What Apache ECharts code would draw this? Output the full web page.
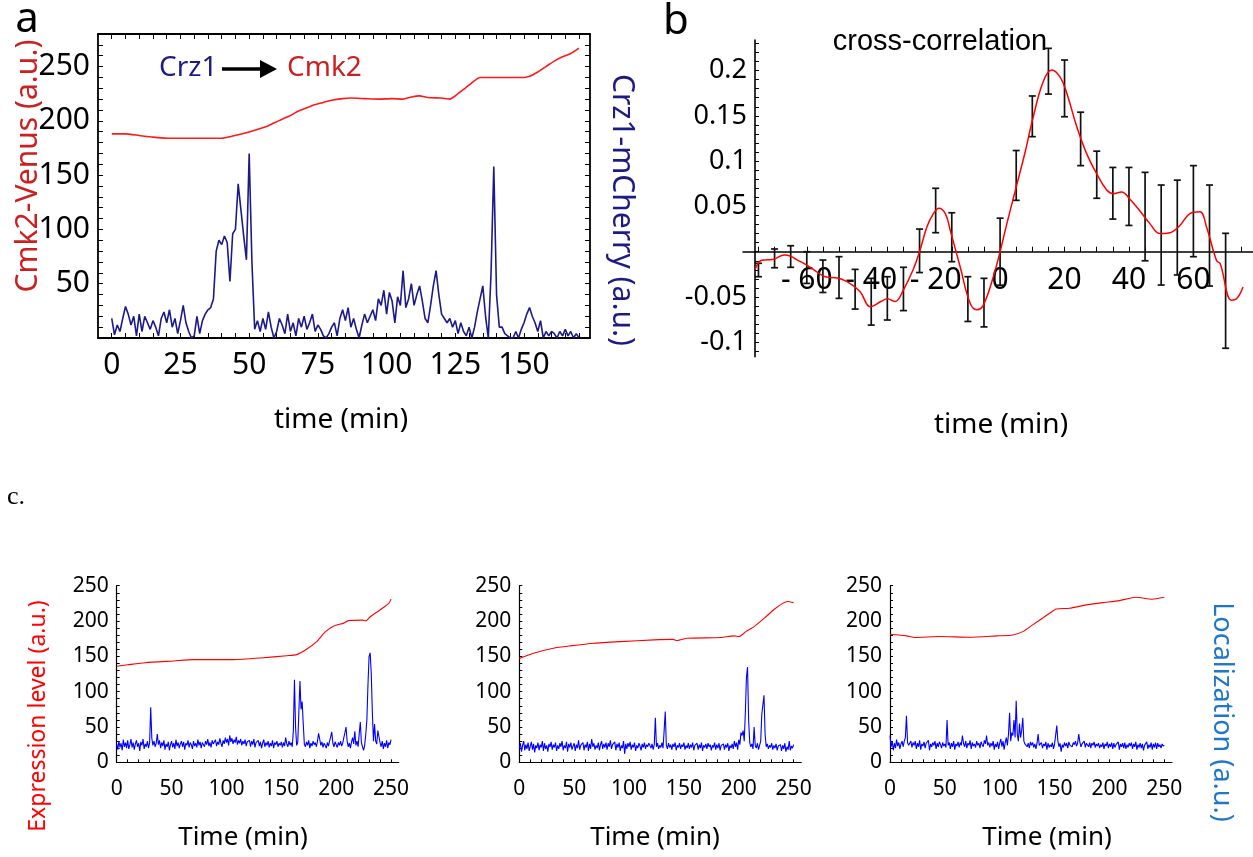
<!DOCTYPE html>
<html><head><meta charset="utf-8">
<script src="https://cdn.jsdelivr.net/npm/echarts@6/dist/echarts.min.js"></script>
<style>html,body{margin:0;padding:0;background:#fff}#c{width:1253px;height:857px}</style>
</head><body><div id="c"></div>
<script>
// ---------- Panel a ----------
const aRedT = [0,5,10,15,20,25,30,35,40,44,49,53,56,59,62,65,68,71,74,77,80,84,87,92,97,102,106,109,112,115,120,123,125,128,131,134,140,145,150,152,155,158,161,164,167,170];
const aRedV = [188,188,186.5,185,184,184,184,184,184,186,189,192,194.5,198,201.5,205,209,212,215,217,219,220.5,221,220.5,220,220.5,220,222,223,221.5,221,220,223,229,235,240,240,240,240,241,245,250,255,259,262,267];
// Crz1-mCherry, one sample per minute from t = 0
const aBlueV = [18,3,12,6,18,29,22,12,20,2, 22,6,20,14,8,16,10,2,18,24, 14,26,10,18,4,16,30,14,6,0,
  2,20,4,16,22,26,28,36,80,90, 86,94,88,52,96,100,142,118,94,72, 170,70,8,16,6,18,8,24,10,0,
  6,18,12,4,22,6,14,2,18,10, 20,8,14,22,6,12,8,2,0,4, 10,14,2,18,26,16,28,10,18,8,
  0,12,22,14,20,26,16,36,30,44, 22,42,34,14,38,30,62,28,36,50, 30,40,48,34,18,14,30,48,62,40,
  22,18,14,18,10,16,4,14,6,2, 10,0,10,24,36,48,20,0,60,158, 40,10,10,4,2,0,0,6,0,8,
  14,22,28,20,14,6,16,0,6,2, 6,4,0,6,2,8,2,6,0,4,0];
const aXLabels = [0,25,50,75,100,125,150];
const aYLabels = [50,100,150,200,250];

// ---------- Panel b ----------
const bCorrT = [-76,-74,-72,-70,-67,-65,-63,-60,-57,-54,-51,-47.5,-43.5,-40.3,-37,-35,-32.6,-30,-27,-25,-22.7,-20.7,-19,-17,-15.5,-12.4,-9.3,-7.2,-5.2,-2.1,0,2.1,5,7.7,10.3,13.4,16,18.6,20.7,23.8,26.9,30,33.1,35.2,37.7,40.3,43.4,46.5,49.6,52.7,55.8,58.9,62,64.1,67.2,68.3,71.8,73.4,75.4];
const bCorrV = [-0.019,-0.0094,-0.009,-0.008,-0.0036,-0.005,-0.009,-0.0147,-0.022,-0.028,-0.0287,-0.033,-0.044,-0.0607,-0.055,-0.052,-0.055,-0.042,-0.020,0,0.0276,0.042,0.048,0.042,0.024,-0.0166,-0.057,-0.064,-0.059,-0.0276,0,0.031,0.0714,0.109,0.149,0.188,0.2006,0.193,0.175,0.138,0.108,0.086,0.068,0.064,0.066,0.058,0.045,0.031,0.020,0.021,0.029,0.042,0.044,0.027,-0.01,-0.013,-0.0535,-0.052,-0.039];
const bErrT = [-75,-70,-65,-60,-55,-50,-45,-40,-35,-30,-25,-20,-15,-10,-5,0,5,10,15,20,25,30,35,40,45,50,55,60,65,70];
const bErrHigh = [-0.0128,0.003,0.0066,0,-0.0092,-0.0055,-0.0195,-0.0294,-0.0276,-0.0172,0.025,0.070,0.043,-0.0276,-0.0294,0.037,0.1117,0.1719,0.2245,0.2116,0.154,0.111,0.093,0.093,0.0876,0.0736,0.079,0.095,0.0736,0.0203];
const bErrLow = [-0.0276,-0.0177,-0.0172,-0.035,-0.045,-0.0515,-0.0633,-0.081,-0.0754,-0.065,-0.023,0.021,-0.011,-0.077,-0.083,-0.037,0.0567,0.127,0.174,0.149,0.095,0.059,0.036,0.029,-0.010,-0.0368,-0.0257,-0.0055,-0.0379,-0.1066];
const bXLabels = [-60,-40,-20,0,20,40,60];
const bYLabels = [-0.1,-0.05,0.05,0.1,0.15,0.2];

// ---------- Panel c ----------
const c1RedT = [0,10,26,52,70,106,131,155,164,173,182,190,198,207,211,224,227,231,240,248,250];
const c1RedV = [136,138,141,143.5,145.3,145.3,147.6,150.9,152.4,160,170.4,184.6,193,197,200.6,201.3,200,206,215.7,225,231];
const c1BlueV = [26,18,30,21,27,17,32,22,28,20, 31,19,25,33,21,28,18,26,31,22, 27,16,29,24,33,19,26,22,30,20,
  28,78,34,24,30,22,27,40,25,31, 20,28,23,31,18,26,22,29,17,25, 30,21,27,19,32,23,28,20,26,30,
  22,29,18,27,24,31,21,28,25,19, 30,23,27,21,32,24,29,20,28,26, 22,30,25,33,23,28,21,31,26,24,
  32,23,29,25,34,27,22,31,26,35, 28,33,24,38,29,34,26,32,28,36, 25,31,27,33,24,30,26,32,23,29,
  27,31,22,30,25,33,21,28,26,31, 23,29,20,27,32,22,28,24,30,21, 27,23,31,20,28,25,30,22,27,24,
  29,21,28,23,35,26,22,30,24,28, 22,45,117,50,24,28,70,115,75,86, 55,26,22,29,24,31,20,27,23,30,
  25,28,22,30,41,33,24,29,21,27, 24,20,28,23,30,36,43,27,22,29, 25,21,28,24,30,23,27,35,42,50,
  30,22,27,20,29,35,26,44,24,30, 22,40,57,28,22,17,24,40,60,110, 150,155,125,70,30,54,30,26,45,43,
  28,22,30,19,27,22,31,20,28,25,32];
const c2RedT = [0,13,31,46.5,68,92,122.7,140,144,153,183.6,195.8,200.4,206.5,214,223.3,232.4,240,244.6,250];
const c2RedV = [147,154.4,161.5,164.8,168.6,170.9,173.3,174,172.5,175.6,176.6,179,178,185,192,204,216.6,225,227.6,226];
const c2BlueV = [20,27,15,24,30,17,25,19,28,16, 23,29,18,26,14,24,20,28,17,25, 21,30,16,27,19,24,15,26,22,29,
  18,25,21,28,16,24,19,27,22,30, 17,24,20,29,15,26,21,28,18,23, 27,16,25,20,31,18,24,22,28,17,
  25,21,29,16,26,19,33,22,27,18, 24,20,28,17,25,30,19,26,21,28, 18,27,22,31,19,25,23,29,17,26,
  21,28,16,24,20,30,12,26,19,27, 22,29,18,25,21,28,16,24,20,27, 23,17,26,21,28,19,25,22,27,24,
  20,26,18,25,63,22,27,19,24,21, 28,20,45,72,24,19,27,21,25,18, 26,22,28,17,24,21,27,19,25,22,
  28,18,24,20,27,19,25,21,28,17, 24,22,27,18,25,20,28,16,24,21, 26,19,27,22,25,17,24,21,28,18,
  25,20,27,17,24,22,26,18,25,21, 27,16,24,20,26,19,30,22,28,18, 32,25,42,38,45,30,70,120,135,60,
  28,22,26,19,50,24,20,27,18,24, 30,68,66,95,40,22,26,19,24,21, 27,18,24,20,26,17,23,21,25,16,
  24,19,27,15,22,18,30,17,23,20,25];
const c3RedT = [0,15,22.7,45.5,72.7,97,112,121,130,139,145.5,151.5,163.6,178.8,194,209,224,239,250];
const c3RedV = [181.3,179,176.6,178,177,179,180.3,185,194.5,204,211,217,218,222.8,226,228.9,233.6,230.8,233.6];
const c3BlueV = [38,22,30,17,27,20,32,23,28,19, 26,30,22,30,35,66,28,24,22,30, 21,28,24,30,19,27,22,31,18,26,
  23,29,20,27,25,31,17,26,22,28, 24,30,19,27,22,29,25,20,28,23, 26,21,60,24,28,19,27,22,30,18,
  26,23,29,21,28,24,38,27,22,30, 20,27,24,31,19,28,23,26,21,30, 24,27,20,29,25,22,31,26,38,24,
  28,21,27,23,30,18,26,22,29,19, 27,33,22,30,18,28,35,24,40,70, 30,42,38,60,35,87,40,30,55,35,
  45,63,30,26,28,22,27,20,29,24, 28,21,26,19,27,40,24,22,28,20, 26,23,29,18,27,21,25,22,28,19,
  26,24,52,30,22,27,15,25,21,28, 23,27,20,29,24,26,22,28,25,30, 23,27,40,29,22,26,24,30,21,27,
  25,22,28,20,27,24,29,21,26,23, 27,20,25,22,28,19,26,23,29,20, 26,22,28,19,27,21,25,23,29,18,
  26,22,27,20,28,19,25,21,27,23, 28,19,26,22,29,18,25,21,27,20, 26,17,24,22,29,19,25,21,28,18,
  26,21,28,19,27,22,25,20,26,23,24];
const cXLabels = [0,50,100,150,200,250];
const cYLabels = [0,50,100,150,200,250];

// ---------- helpers ----------
function pairs(t, v) { return t.map((x, i) => [x, v[i]]); }
function perMinute(v) { return v.map((y, i) => [i, y]); }
function steps(a, b, s) { const out = []; for (let k = Math.round(a / s); k <= Math.round(b / s); k++) out.push(+(k * s).toFixed(4)); return out; }

const SANS = 'Noto Sans';
function valAxis(o) {
  const ax = {
    type: 'value', gridIndex: o.grid, position: o.pos, min: o.min, max: o.max, offset: o.offset || 0,
    axisLine: { show: true, onZero: !!o.onZero, lineStyle: { color: '#000', width: o.lw || 1.5 } },
    axisTick: { show: true, inside: true, length: o.tl || 5, customValues: o.ticks, lineStyle: { color: '#000', width: o.tw || 1 } },
    splitLine: { show: false }, minorTick: { show: false }, minorSplitLine: { show: false }
  };
  if (o.labels) {
    ax.axisLabel = { show: true, customValues: o.labels, color: '#000', fontSize: o.fs, fontFamily: SANS, margin: o.margin, hideOverlap: false };
    if (o.fmt) ax.axisLabel.formatter = o.fmt;
  } else {
    ax.axisLabel = { show: false };
  }
  return ax;
}

const xAxes = [
  valAxis({ grid: 0, pos: 'bottom', min: -5, max: 174, ticks: steps(0, 170, 5), labels: aXLabels, fs: 30, margin: 12, lw: 1.8, tl: 5 }),
  valAxis({ grid: 0, pos: 'top', min: -5, max: 174, ticks: steps(0, 170, 5), lw: 1.8, tl: 5 }),
  valAxis({ grid: 1, pos: 'bottom', min: -79.8, max: 78.5, onZero: true, ticks: steps(-75, 75, 5), labels: bXLabels, fs: 30, margin: -91, lw: 1.6, tl: 5,
            fmt: v => (v < 0 ? '- ' + (-v) : String(v)) }),
  valAxis({ grid: 2, pos: 'bottom', min: 0, max: 257, ticks: steps(0, 250, 10), labels: cXLabels, fs: 21, margin: 16, lw: 1.2, tl: 3 }),
  valAxis({ grid: 3, pos: 'bottom', min: 0, max: 257, ticks: steps(0, 250, 10), labels: cXLabels, fs: 21, margin: 16, lw: 1.2, tl: 3 }),
  valAxis({ grid: 4, pos: 'bottom', min: 0, max: 257, ticks: steps(0, 250, 10), labels: cXLabels, fs: 21, margin: 16, lw: 1.2, tl: 3 })
];
const yAxes = [
  valAxis({ grid: 0, pos: 'left', min: 0, max: 280, ticks: steps(10, 270, 10), labels: aYLabels, fs: 30, margin: 8, lw: 1.8, tl: 5 }),
  valAxis({ grid: 0, pos: 'right', min: 0, max: 280, ticks: steps(10, 270, 10), lw: 1.8, tl: 5 }),
  valAxis({ grid: 1, pos: 'left', min: -0.1159, max: 0.2337, offset: -12, ticks: steps(-0.11, 0.23, 0.01), labels: bYLabels, fs: 27, margin: 8, lw: 1.6, tl: 4 }),
  valAxis({ grid: 2, pos: 'left', min: 0, max: 250, ticks: steps(0, 250, 10), labels: cYLabels, fs: 21, margin: 8, lw: 1.2, tl: 3 }),
  valAxis({ grid: 3, pos: 'left', min: 0, max: 250, ticks: steps(0, 250, 10), labels: cYLabels, fs: 21, margin: 8, lw: 1.2, tl: 3 }),
  valAxis({ grid: 4, pos: 'left', min: 0, max: 250, ticks: steps(0, 250, 10), labels: cYLabels, fs: 21, margin: 8, lw: 1.2, tl: 3 })
];

function lineSeries(xi, data, color, width, smooth) {
  return { type: 'line', xAxisIndex: xi, yAxisIndex: xi, data, showSymbol: false, symbol: 'none', smooth: smooth || false,
           lineStyle: { color, width }, itemStyle: { color }, emphasis: { disabled: true }, silent: true, z: 3 };
}

const errData = bErrT.map((t, i) => [t, bErrLow[i], bErrHigh[i]]);

function txt(x, y, text, size, color, o) {
  o = o || {};
  const font = size + 'px ' + (o.family || '"Noto Sans"');
  const align = o.align || 'center', va = o.va || 'middle';
  return { type: 'text', x, y, rotation: o.rot || 0, z: 20, silent: true,
    style: { text, font, fill: color, align, verticalAlign: va, textAlign: align, textVerticalAlign: va } };
}

const NAVY = '#1c1a84', DRED = '#cc2020';
const option = {
  backgroundColor: '#ffffff',
  animation: false,
  grid: [
    { left: 98, top: 34, width: 492, height: 304, containLabel: false, outerBoundsMode: 'none' },
    { left: 743, top: 40, width: 510, height: 316.7, containLabel: false, outerBoundsMode: 'none' },
    { left: 116.7, top: 585.7, width: 282, height: 176.6, containLabel: false, outerBoundsMode: 'none' },
    { left: 519.3, top: 585.7, width: 282, height: 176.6, containLabel: false, outerBoundsMode: 'none' },
    { left: 890, top: 585.7, width: 282, height: 176.6, containLabel: false, outerBoundsMode: 'none' }
  ],
  xAxis: xAxes,
  yAxis: yAxes,
  series: [
    lineSeries(0, pairs(aRedT, aRedV), '#ff1a1a', 1.6, 0.2),
    lineSeries(0, perMinute(aBlueV), '#1c1a8a', 1.6, false),
    {
      type: 'custom', xAxisIndex: 2, yAxisIndex: 2, data: errData, silent: true, z: 2,
      encode: { x: 0, y: [1, 2] },
      renderItem: function (params, api) {
        const x = api.value(0), lo = api.value(1), hi = api.value(2);
        const p1 = api.coord([x, hi]), p2 = api.coord([x, lo]);
        const w = 3.5, st = { stroke: '#111', lineWidth: 1.7 };
        return { type: 'group', children: [
          { type: 'line', shape: { x1: p1[0], y1: p1[1], x2: p2[0], y2: p2[1] }, style: st },
          { type: 'line', shape: { x1: p1[0] - w, y1: p1[1], x2: p1[0] + w, y2: p1[1] }, style: st },
          { type: 'line', shape: { x1: p2[0] - w, y1: p2[1], x2: p2[0] + w, y2: p2[1] }, style: st }
        ] };
      }
    },
    lineSeries(2, pairs(bCorrT, bCorrV), '#ff0000', 1.5, 0.4),
    lineSeries(3, perMinute(c1BlueV), '#0000ff', 1.1, false),
    lineSeries(3, pairs(c1RedT, c1RedV), '#ff0000', 1.1, 0.2),
    lineSeries(4, perMinute(c2BlueV), '#0000ff', 1.1, false),
    lineSeries(4, pairs(c2RedT, c2RedV), '#ff0000', 1.1, 0.2),
    lineSeries(5, perMinute(c3BlueV), '#0000ff', 1.1, false),
    lineSeries(5, pairs(c3RedT, c3RedV), '#ff0000', 1.1, 0.2)
  ],
  graphic: [
    txt(27, 20, 'a', 42, '#000'),
    txt(676, 22, 'b', 42, '#000'),
    txt(7, 497, 'c.', 26, '#000', { align: 'left', family: '"Liberation Serif"' }),
    txt(159, 68, 'Crz1', 28, NAVY, { align: 'left' }),
    txt(287, 68, 'Cmk2', 28, DRED, { align: 'left' }),
    { type: 'line', z: 20, silent: true, shape: { x1: 222, y1: 69, x2: 265, y2: 69 }, style: { stroke: '#000', lineWidth: 3.5 } },
    { type: 'polygon', z: 20, silent: true, shape: { points: [[260, 60], [277, 69], [260, 78]] }, style: { fill: '#000' } },
    txt(28, 166, 'Cmk2-Venus (a.u.)', 30, DRED, { rot: Math.PI / 2 }),
    txt(622, 210, 'Crz1-mCherry (a.u.)', 30, NAVY, { rot: -Math.PI / 2 }),
    txt(341, 420, 'time (min)', 28, '#000'),
    txt(940, 42, 'cross-correlation', 29, '#000', { family: '"Liberation Sans"' }),
    txt(1001, 425, 'time (min)', 28, '#000'),
    txt(38, 716, 'Expression level (a.u.)', 23, '#ff0000', { rot: Math.PI / 2 }),
    txt(1222, 712, 'Localization (a.u.)', 27, '#1f77c9', { rot: -Math.PI / 2 }),
    txt(243, 838, 'Time (min)', 26, '#000'),
    txt(655, 838, 'Time (min)', 26, '#000'),
    txt(1047, 838, 'Time (min)', 26, '#000')
  ]
};
const chart = echarts.init(document.getElementById('c'), null, { renderer: 'canvas', width: 1253, height: 857 });
chart.setOption(option);
</script></body></html>
